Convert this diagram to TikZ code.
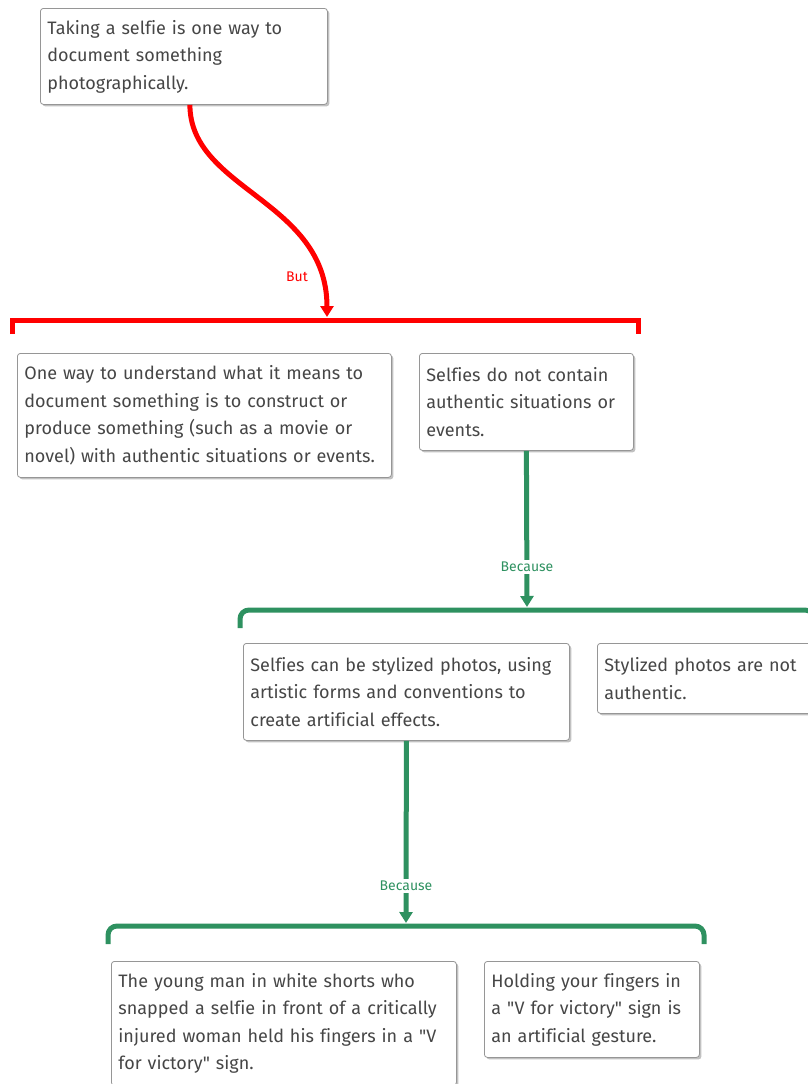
\documentclass[tikz,border=0pt]{standalone}
\usepackage{fontspec}
\setmainfont{Fira Sans}[Ligatures={TeXOff,NoCommon}]
\usetikzlibrary{shadows,arrows.meta,calc}
\definecolor{redc}{RGB}{255,0,0}
\definecolor{greenc}{RGB}{46,145,96}
\definecolor{txt}{RGB}{70,70,70}
\definecolor{bord}{RGB}{150,150,150}
\begin{document}
\begin{tikzpicture}[x=1pt,y=-1pt,
  box/.style={draw=bord, line width=0.8pt, fill=white, rounded corners=3pt,
    drop shadow={shadow xshift=2pt, shadow yshift=-2pt, opacity=0.35, fill=black!70},
    anchor=north west, align=left, inner xsep=7pt, inner ysep=0pt,
    font=\fontsize{18}{27.5}\selectfont, text=txt},
  redline/.style={draw=redc, line width=5pt},
  greenline/.style={draw=greenc, line width=5pt},
  redarrow/.style={redline, -{Triangle[length=11pt,width=13pt]}},
  greenarrow/.style={greenline, -{Triangle[length=11pt,width=13pt]}},
  lab/.style={font=\fontsize{14}{16}\selectfont, inner sep=2pt},
]
\useasboundingbox (0,0) rectangle (808,1084);

% boxes
\node[box, text width=273pt, minimum height=96pt] (A) at (40,8)
  {Taking a selfie is one way to\\document something\\photographically.};
\node[box, text width=360pt, minimum height=124pt] (B) at (17,353)
  {One way to understand what it means to\\document something is to construct or\\produce something (such as a movie or\\novel) with authentic situations or events.};
\node[box, text width=200pt, minimum height=97pt] (C) at (419,353)
  {Selfies do not contain\\authentic situations or\\events.};
\node[box, text width=312pt, minimum height=97pt] (D) at (243,643)
  {Selfies can be stylized photos, using\\artistic forms and conventions to\\create artificial effects.};
\node[box, text width=200pt, minimum height=70pt] (E) at (597,643)
  {Stylized photos are not\\authentic.};
\node[box, text width=331pt, minimum height=124pt] (F) at (111,961)
  {The young man in white shorts who\\snapped a selfie in front of a critically\\injured woman held his fingers in a "V\\for victory" sign.};
\node[box, text width=201pt, minimum height=96pt] (G) at (484,961)
  {Holding your fingers in\\a "V for victory" sign is\\an artificial gesture.};

% brackets
\coordinate (rb) at (327,317);
\draw[redline] (12,334) -- (12,320) -- (638,320) -- (638,334);
\coordinate (gb1) at (527,607);
\draw[greenline, rounded corners=9pt] (240,628) -- (240,610) -- (814,610) -- (814,628);
\coordinate (gb2) at (406,923);
\draw[greenline, rounded corners=9pt] (108,944) -- (108,926) -- (704,926) -- (704,944);

% connectors
\draw[redarrow] ([xshift=6pt]A.south) .. controls (190,190) and (327,200) .. (rb);
\node[lab, text=redc] (but) at (297,277) {But};
\draw[greenarrow] (C.south) -- (gb1);
\node[lab, text=greenc, fill=white] (bc1) at (527,567) {Because};
\draw[greenarrow] (D.south) -- (gb2);
\node[lab, text=greenc, fill=white] (bc2) at (406,886) {Because};
\end{tikzpicture}
\end{document}
